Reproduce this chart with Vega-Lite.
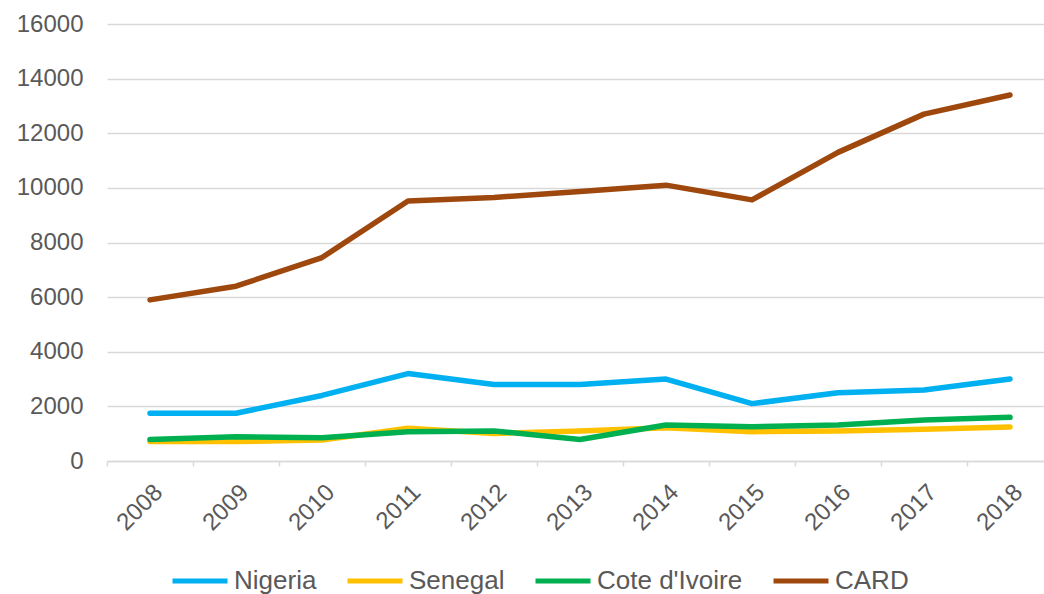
{
  "$schema": "https://vega.github.io/schema/vega-lite/v6.json",
  "width": 946,
  "height": 437,
  "autosize": {"type": "none"},
  "padding": {"left": 107, "top": 24, "right": 0, "bottom": 133},
  "background": "white",
  "config": {
    "view": {"stroke": null},
    "font": "Liberation Sans"
  },
  "data": {
    "values": [
      {"year": "2008", "country": "Nigeria", "value": 1750},
      {"year": "2009", "country": "Nigeria", "value": 1750},
      {"year": "2010", "country": "Nigeria", "value": 2400},
      {"year": "2011", "country": "Nigeria", "value": 3200},
      {"year": "2012", "country": "Nigeria", "value": 2800},
      {"year": "2013", "country": "Nigeria", "value": 2800},
      {"year": "2014", "country": "Nigeria", "value": 3000},
      {"year": "2015", "country": "Nigeria", "value": 2100},
      {"year": "2016", "country": "Nigeria", "value": 2500},
      {"year": "2017", "country": "Nigeria", "value": 2600},
      {"year": "2018", "country": "Nigeria", "value": 3000},
      {"year": "2008", "country": "Senegal", "value": 710},
      {"year": "2009", "country": "Senegal", "value": 710},
      {"year": "2010", "country": "Senegal", "value": 770},
      {"year": "2011", "country": "Senegal", "value": 1200},
      {"year": "2012", "country": "Senegal", "value": 1010},
      {"year": "2013", "country": "Senegal", "value": 1100},
      {"year": "2014", "country": "Senegal", "value": 1220},
      {"year": "2015", "country": "Senegal", "value": 1075},
      {"year": "2016", "country": "Senegal", "value": 1100},
      {"year": "2017", "country": "Senegal", "value": 1160},
      {"year": "2018", "country": "Senegal", "value": 1245},
      {"year": "2008", "country": "Cote d'Ivoire", "value": 790},
      {"year": "2009", "country": "Cote d'Ivoire", "value": 890},
      {"year": "2010", "country": "Cote d'Ivoire", "value": 850},
      {"year": "2011", "country": "Cote d'Ivoire", "value": 1075},
      {"year": "2012", "country": "Cote d'Ivoire", "value": 1100},
      {"year": "2013", "country": "Cote d'Ivoire", "value": 790},
      {"year": "2014", "country": "Cote d'Ivoire", "value": 1320},
      {"year": "2015", "country": "Cote d'Ivoire", "value": 1255},
      {"year": "2016", "country": "Cote d'Ivoire", "value": 1320},
      {"year": "2017", "country": "Cote d'Ivoire", "value": 1500},
      {"year": "2018", "country": "Cote d'Ivoire", "value": 1600},
      {"year": "2008", "country": "CARD", "value": 5900},
      {"year": "2009", "country": "CARD", "value": 6400},
      {"year": "2010", "country": "CARD", "value": 7450},
      {"year": "2011", "country": "CARD", "value": 9520},
      {"year": "2012", "country": "CARD", "value": 9650},
      {"year": "2013", "country": "CARD", "value": 9870},
      {"year": "2014", "country": "CARD", "value": 10100},
      {"year": "2015", "country": "CARD", "value": 9560},
      {"year": "2016", "country": "CARD", "value": 11300},
      {"year": "2017", "country": "CARD", "value": 12700},
      {"year": "2018", "country": "CARD", "value": 13400}
    ]
  },
  "mark": {"type": "line", "strokeWidth": 5.5, "strokeCap": "round", "strokeJoin": "round"},
  "encoding": {
    "x": {
      "field": "year",
      "type": "ordinal",
      "bandPosition": 0.5,
      "scale": {"type": "band", "paddingInner": 0, "paddingOuter": 0},
      "axis": {
        "title": null,
        "labelAngle": -45,
        "labelFontSize": 24,
        "labelColor": "#595959",
        "labelPadding": 14,
        "labelDx": -7,
        "domainColor": "#d9d9d9",
        "domainWidth": 1.5,
        "tickColor": "#d9d9d9",
        "tickSize": 5,
        "tickWidth": 1.5,
        "tickBand": "extent",
        "grid": false
      }
    },
    "y": {
      "field": "value",
      "type": "quantitative",
      "scale": {"domain": [0, 16000]},
      "axis": {
        "title": null,
        "values": [0, 2000, 4000, 6000, 8000, 10000, 12000, 14000, 16000],
        "format": "d",
        "labelFontSize": 24,
        "labelColor": "#595959",
        "labelPadding": 24,
        "domain": false,
        "ticks": false,
        "gridColor": "#d9d9d9",
        "gridWidth": 1.5
      }
    },
    "color": {
      "field": "country",
      "type": "nominal",
      "sort": null,
      "scale": {
        "domain": ["Nigeria", "Senegal", "Cote d'Ivoire", "CARD"],
        "range": ["#00B0F0", "#FFC000", "#00B050", "#9E480E"]
      },
      "legend": {
        "title": null,
        "orient": "none",
        "legendX": 63,
        "legendY": 527,
        "direction": "horizontal",
        "columns": 4,
        "columnPadding": 20,
        "symbolType": "stroke",
        "symbolSize": 3025,
        "symbolStrokeWidth": 5,
        "labelFontSize": 26,
        "labelColor": "#595959",
        "labelOffset": 4,
        "labelLimit": 400
      }
    }
  }
}
